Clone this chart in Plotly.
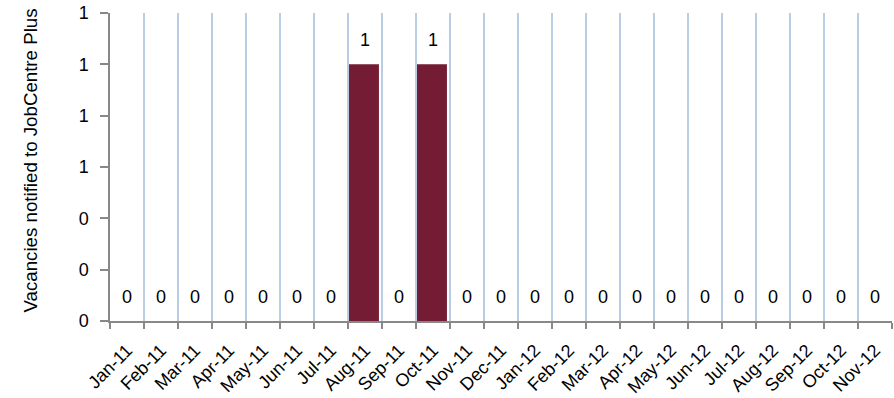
import plotly.graph_objects as go

months = ["Jan-11", "Feb-11", "Mar-11", "Apr-11", "May-11", "Jun-11", "Jul-11",
          "Aug-11", "Sep-11", "Oct-11", "Nov-11", "Dec-11", "Jan-12", "Feb-12",
          "Mar-12", "Apr-12", "May-12", "Jun-12", "Jul-12", "Aug-12", "Sep-12",
          "Oct-12", "Nov-12"]
vacancies = [0, 0, 0, 0, 0, 0, 0, 1, 0, 1, 0, 0, 0, 0, 0, 0, 0, 0, 0, 0, 0, 0, 0]
y_ticks = [0, 0.2, 0.4, 0.6, 0.8, 1.0, 1.2]
y_title = "Vacancies notified to JobCentre Plus"

FONT = "Liberation Sans, Arial, sans-serif"
W, H = 894, 398
L, R, T, B = 110, 2, 13, 77

fig = go.Figure()
fig.add_trace(go.Bar(
    x=months, y=vacancies,
    marker=dict(color="#731C34", line=dict(width=0)),
    width=0.88, offset=-0.47,
    hoverinfo="x+y",
))

for m, v in zip(months, vacancies):
    fig.add_annotation(x=m, y=v, xref="x", yref="y", text=str(v),
                       showarrow=False, yanchor="middle", yshift=24,
                       font=dict(family=FONT, size=18, color="#000000"))

plot_w = W - L - R
plot_h = H - T - B
fig.add_annotation(text=y_title, textangle=-90, showarrow=False,
                   xref="paper", yref="paper",
                   x=(30 - L) / plot_w, y=(H - B - 160.5) / plot_h,
                   xanchor="center", yanchor="middle",
                   font=dict(family=FONT, size=18.7, color="#000000"))

fig.update_layout(
    width=W, height=H,
    margin=dict(l=L, r=R, t=T, b=B, pad=0, autoexpand=False),
    paper_bgcolor="white", plot_bgcolor="white",
    showlegend=False,
    font=dict(family=FONT, size=18, color="#000000"),
    bargap=0.12,
)
fig.update_xaxes(
    type="category", automargin=False,
    range=[-0.5, len(months) - 0.5],
    tickson="boundaries",
    showgrid=True, gridcolor="#B9CDE5", gridwidth=1.5,
    showline=True, linecolor="#888888", linewidth=1.5,
    ticks="outside", ticklen=6, tickcolor="#888888", tickwidth=1.5,
    tickangle=-45,
    tickfont=dict(family=FONT, size=18, color="#000000"),
    ticklabelstandoff=10,
    zeroline=False,
)
fig.update_yaxes(
    automargin=False,
    range=[0, 1.2],
    tickvals=y_ticks, tickformat=".0f",
    showgrid=False, zeroline=False,
    showline=True, linecolor="#888888", linewidth=1.5,
    ticks="outside", ticklen=8, tickcolor="#888888", tickwidth=1.5,
    tickfont=dict(family=FONT, size=18, color="#000000"),
    ticklabelstandoff=8,
)

fig.write_html("out.html",
               config={"displayModeBar": False},
               post_script="document.body.style.margin='0';document.body.style.padding='0';")
